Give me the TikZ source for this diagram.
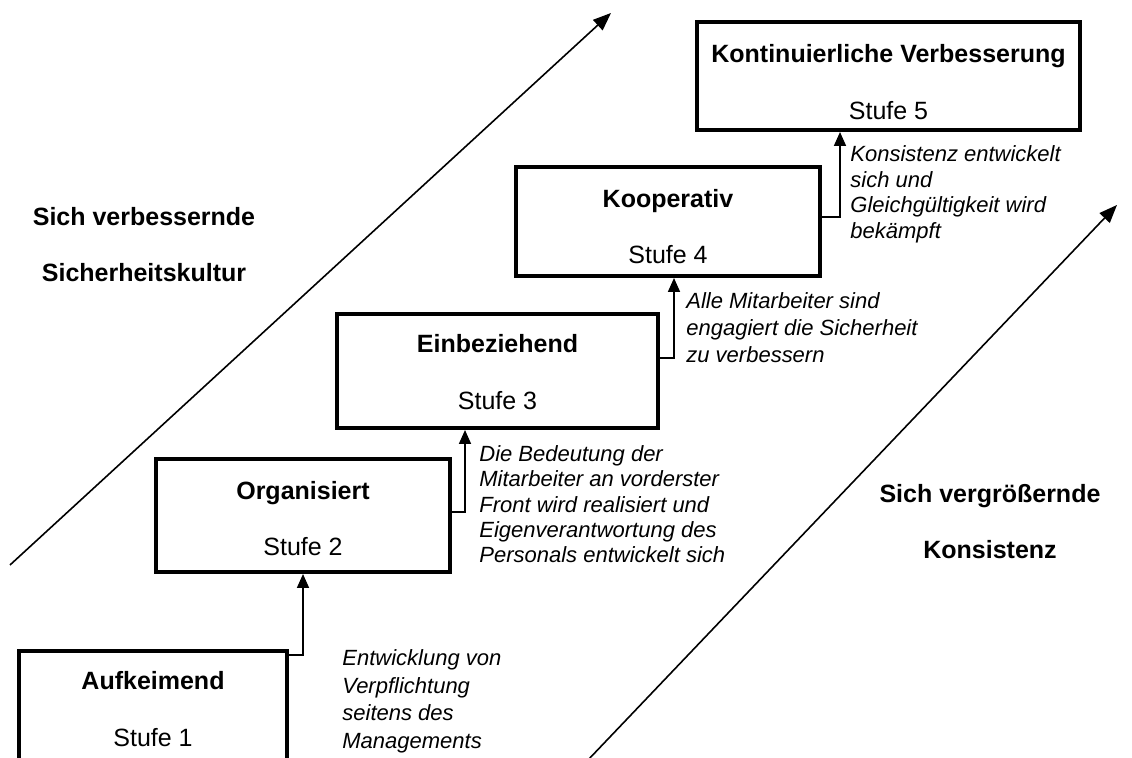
\documentclass[tikz,border=0pt]{standalone}
\usepackage{fontspec}
\setmainfont{Liberation Sans}
\usetikzlibrary{arrows.meta,positioning}

\tikzset{
  stufe/.style={draw, rectangle, line width=2pt, inner sep=0pt},
  titel/.style={anchor=base, inner sep=0pt, font=\fontsize{12.5}{15}\selectfont\bfseries},
  nummer/.style={anchor=base, inner sep=0pt, font=\fontsize{12.5}{15}\selectfont},
  notiz/.style={anchor=north west, inner sep=0pt, align=left},
  seite/.style={align=center, inner sep=0pt, font=\fontsize{12.5}{28}\selectfont\bfseries},
  pfeil/.style={line width=0.85pt, -{Triangle[width=6pt,length=7pt]}},
  diag/.style={line width=0.8pt, -{Triangle[width=7pt,length=9pt]}}
}

\begin{document}
\begin{tikzpicture}[x=0.5pt, y=-0.5pt]
		\useasboundingbox (0,0) rectangle (1132,758);
		% die fuenf Stufen
		\draw (153,707.5) node [stufe, minimum width=134pt, minimum height=56.5pt] (s1) {};
		\draw (303,515.5) node [stufe, minimum width=147pt, minimum height=56.5pt] (s2) {};
		\draw (497.5,371) node [stufe, minimum width=160.5pt, minimum height=57pt] (s3) {};
		\draw (668,221.5) node [stufe, minimum width=152pt, minimum height=54.5pt] (s4) {};
		\draw (888.5,76) node [stufe, minimum width=191.5pt, minimum height=54pt] (s5) {};
		\node [titel] (t1) at ([yshift=-20.5pt]s1.north) {Aufkeimend};
		\node [nummer] (n1) at ([yshift=-49pt]s1.north) {Stufe 1};
		\node [titel] (t2) at ([yshift=-21.5pt]s2.north) {Organisiert};
		\node [nummer] (n2) at ([yshift=-49.5pt]s2.north) {Stufe 2};
		\node [titel] (t3) at ([yshift=-20.5pt]s3.north) {Einbeziehend};
		\node [nummer] (n3) at ([yshift=-49pt]s3.north) {Stufe 3};
		\node [titel] (t4) at ([yshift=-21.5pt]s4.north) {Kooperativ};
		\node [nummer] (n4) at ([yshift=-49.5pt]s4.north) {Stufe 4};
		\node [titel] (t5) at ([yshift=-21.5pt]s5.north) {Kontinuierliche Verbesserung};
		\node [nummer] (n5) at ([yshift=-50pt]s5.north) {Stufe 5};
		% Uebergaenge
		\draw[pfeil] ([yshift=-3pt]s1.north east) -| (s2.south);
		\draw[pfeil] ([yshift=1.75pt]s2.east) -- ++(6.5pt,0) coordinate (k2) -- (k2 |- s3.south);
		\draw[pfeil] ([yshift=6.5pt]s3.east) -- ++(7pt,0) coordinate (k3) -- (k3 |- s4.south);
		\draw[pfeil] ([yshift=2.25pt]s4.east) -- ++(9pt,0) coordinate (k4) -- (k4 |- s5.south);
		\node [notiz, font=\fontsize{11}{13.85}\selectfont\itshape] (v1) at (342,649)
			{Entwicklung von\\Verpflichtung\\seitens des\\Managements};
		\node [notiz, font=\fontsize{11}{12.7}\selectfont\itshape] (v2) at (479,445)
			{Die Bedeutung der\\Mitarbeiter an vorderster\\Front wird realisiert und\\Eigenverantwortung des\\Personals entwickelt sich};
		\node [notiz, font=\fontsize{11}{13.5}\selectfont\itshape] (v3) at (686,292)
			{Alle Mitarbeiter sind\\engagiert die Sicherheit\\zu verbessern};
		\node [notiz, font=\fontsize{11}{12.85}\selectfont\itshape] (v4) at (850,145)
			{Konsistenz entwickelt\\sich und\\Gleichgültigkeit wird\\bekämpft};
		% Trends
		\coordinate (l0) at (10,565);
		\coordinate (l1) at (611,13);
		\coordinate (r0) at (588,760);
		\coordinate (r1) at (1117,205);
		\draw[diag] (l0) -- (l1);
		\draw[diag] (r0) -- (r1);
		\node [seite] (kultur) at (144,245) {Sich verbessernde\\Sicherheitskultur};
		\node [seite] (konsistenz) at (990,522) {Sich vergrößernde\\Konsistenz};
	\end{tikzpicture}
\end{document}
